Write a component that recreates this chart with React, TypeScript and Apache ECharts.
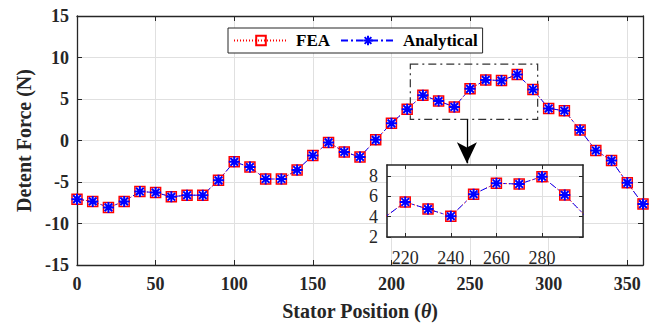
import React, { useEffect, useRef } from "react";
import * as echarts from "echarts";

// ---- data ----
const theta = [0, 10, 20, 30, 40, 50, 60, 70, 80, 90, 100, 110, 120, 130, 140, 150, 160, 170, 180, 190, 200, 210, 220, 230, 240, 250, 260, 270, 280, 290, 300, 310, 320, 330, 340, 350, 360];
const feaValues = [-7.07, -7.34, -8.06, -7.34, -6.15, -6.27, -6.78, -6.59, -6.59, -4.8, -2.57, -3.2, -4.64, -4.64, -3.55, -1.8, -0.23, -1.38, -1.98, 0.08, 2.07, 3.78, 5.45, 4.75, 4.05, 6.22, 7.3, 7.22, 7.95, 6.15, 3.86, 3.59, 1.27, -1.2, -2.42, -5.1, -7.66];
const analyticalValues = [-7.07, -7.34, -8.06, -7.34, -6.15, -6.27, -6.78, -6.59, -6.59, -4.8, -2.57, -3.2, -4.64, -4.64, -3.55, -1.8, -0.23, -1.38, -1.98, 0.08, 2.07, 3.78, 5.45, 4.75, 4.05, 6.22, 7.3, 7.22, 7.95, 6.15, 3.86, 3.59, 1.27, -1.2, -2.42, -5.1, -7.66];
const mainXTicks = [0, 50, 100, 150, 200, 250, 300, 350];
const insetXTicks = [220, 240, 260, 280];
const insetYTicks = [2, 4, 6, 8];

// zoom box / inset ranges
const insetXRange = [212, 298];
const insetYRange = [2, 9.1];
const zoomBox = { x0: 212, x1: 293, y0: 2.55, y1: 9.2 };
const arrow = { x: 248, y0: 2.55, y1: -2.75 };

const FONT = "Liberation Serif";
const AX = "#262626";
const GRID = "#e0e0e0";
const ASTERISK = "path://M5,0L5,10M0,5L10,5M1.5,1.5L8.5,8.5M1.5,8.5L8.5,1.5";

export default function App() {
  const ref = useRef<HTMLDivElement>(null);
  useEffect(() => {
    if (!ref.current) return;
    const chart = echarts.init(ref.current, null, { renderer: "svg" });
    const fea = theta.map((t, i) => [t, feaValues[i]]);
    const ana = theta.map((t, i) => [t, analyticalValues[i]]);

    const feaStyle = {
      type: "line" as const,
      symbol: "rect",
      symbolSize: 10,
      lineStyle: { color: "#ff0000", width: 1, type: [1, 2] },
      itemStyle: { color: "rgba(255,255,255,0)", borderColor: "#ff0000", borderWidth: 1.5 },
    };
    const anaStyle = {
      type: "line" as const,
      symbol: ASTERISK,
      symbolSize: 11,
      lineStyle: { color: "#0000ff", width: 1, type: [7, 3, 2, 3] },
      itemStyle: { color: "#0000ff", borderColor: "#0000ff", borderWidth: 2 },
    };

    const boxAxis = (extra: any) => ({
      axisLine: { show: true, onZero: false, lineStyle: { color: AX, width: 1.3 } },
      axisTick: { show: true, inside: true, length: 5, lineStyle: { color: AX, width: 1 } },
      ...extra,
    });

    chart.setOption({
      animation: false,
      backgroundColor: "#fff",
      textStyle: { fontFamily: FONT },
      legend: {
        left: 228,
        top: 28,
        padding: [4, 5, 4, 5],
        borderColor: AX,
        borderWidth: 1,
        backgroundColor: "#fff",
        itemWidth: 54,
        itemHeight: 12,
        itemGap: 10,
        data: ["FEA", "Analytical"],
        textStyle: { fontFamily: FONT, fontWeight: "bold", fontSize: 17, color: "#000", padding: [0, 0, 0, 3] },
      },
      grid: [
        { left: 77, top: 16, width: 566, height: 252 },
        { left: 387, top: 165, width: 196, height: 72, show: true, backgroundColor: "#fff", borderWidth: 0, z: 3 },
      ],
      xAxis: [
        boxAxis({
          type: "value",
          gridIndex: 0,
          min: 0,
          max: 360,
          interval: 50,
          name: "Stator Position ({i|θ})",
          nameLocation: "middle",
          nameGap: 36,
          nameTextStyle: {
            fontFamily: FONT, fontWeight: "bold", fontSize: 20, color: AX,
            rich: { i: { fontFamily: FONT, fontWeight: "bold", fontStyle: "italic", fontSize: 20, color: AX } },
          },
          axisLabel: { customValues: mainXTicks, fontFamily: FONT, fontWeight: "bold", fontSize: 18, color: AX, margin: 10 },
          splitLine: { show: true, lineStyle: { color: GRID, width: 1 } },
        }),
        boxAxis({
          type: "value", gridIndex: 0, position: "top", min: 0, max: 360, interval: 50,
          axisLabel: { show: false }, splitLine: { show: false },
        }),
        boxAxis({
          type: "value", gridIndex: 1, min: insetXRange[0], max: insetXRange[1], z: 4,
          axisLine: { show: true, onZero: false, lineStyle: { color: AX, width: 1.6 } },
          axisTick: { show: true, inside: true, length: 4, customValues: insetXTicks, lineStyle: { color: AX } },
          axisLabel: { customValues: insetXTicks, fontFamily: FONT, fontSize: 18, color: AX, margin: 12 },
          splitLine: { show: true, customValues: insetXTicks, lineStyle: { color: GRID } },
        }),
        boxAxis({
          type: "value", gridIndex: 1, position: "top", min: insetXRange[0], max: insetXRange[1], z: 4,
          axisLine: { show: true, onZero: false, lineStyle: { color: AX, width: 1.6 } },
          axisTick: { show: true, inside: true, length: 4, customValues: insetXTicks, lineStyle: { color: AX } },
          axisLabel: { show: false }, splitLine: { show: false },
        }),
      ],
      yAxis: [
        boxAxis({
          type: "value",
          gridIndex: 0,
          min: -15,
          max: 15,
          interval: 5,
          name: "Detent Force (N)",
          nameLocation: "middle",
          nameGap: 36,
          nameTextStyle: { fontFamily: FONT, fontWeight: "bold", fontSize: 20, color: AX },
          axisLabel: { fontFamily: FONT, fontWeight: "bold", fontSize: 18, color: AX, margin: 8 },
          splitLine: { show: true, lineStyle: { color: GRID, width: 1 } },
        }),
        boxAxis({
          type: "value", gridIndex: 0, position: "right", min: -15, max: 15, interval: 5,
          axisLabel: { show: false }, splitLine: { show: false },
        }),
        boxAxis({
          type: "value", gridIndex: 1, min: insetYRange[0], max: insetYRange[1], z: 4,
          axisLine: { show: true, onZero: false, lineStyle: { color: AX, width: 1.6 } },
          axisTick: { show: true, inside: true, length: 4, customValues: insetYTicks, lineStyle: { color: AX } },
          axisLabel: { customValues: insetYTicks, fontFamily: FONT, fontSize: 18, color: AX, margin: 9 },
          splitLine: { show: true, customValues: insetYTicks, lineStyle: { color: GRID } },
        }),
        boxAxis({
          type: "value", gridIndex: 1, position: "right", min: insetYRange[0], max: insetYRange[1], z: 4,
          axisLine: { show: true, onZero: false, lineStyle: { color: AX, width: 1.6 } },
          axisTick: { show: true, inside: true, length: 4, customValues: insetYTicks, lineStyle: { color: AX } },
          axisLabel: { show: false }, splitLine: { show: false },
        }),
      ],
      series: [
        {
          ...feaStyle,
          name: "FEA",
          xAxisIndex: 0,
          yAxisIndex: 0,
          data: fea,
          markArea: {
            silent: true,
            itemStyle: { color: "rgba(0,0,0,0)", borderColor: "#333", borderWidth: 1.2, borderType: [8, 4, 2, 4] },
            data: [[{ coord: [zoomBox.x0, zoomBox.y1] }, { coord: [zoomBox.x1, zoomBox.y0] }]],
          },
          markLine: {
            silent: true,
            symbol: ["none", "arrow"],
            symbolSize: [15, 21],
            label: { show: false },
            lineStyle: { color: "#000", width: 1.3, type: "solid" },
            data: [[{ coord: [arrow.x, arrow.y0] }, { coord: [arrow.x, arrow.y1] }]],
          },
        },
        { ...anaStyle, name: "Analytical", xAxisIndex: 0, yAxisIndex: 0, data: ana },
        { ...feaStyle, name: "FEA", xAxisIndex: 2, yAxisIndex: 2, data: fea, z: 5, clip: true },
        { ...anaStyle, name: "Analytical", xAxisIndex: 2, yAxisIndex: 2, data: ana, z: 5, clip: true },
      ],
    });
    return () => chart.dispose();
  }, []);
  return <div ref={ref} style={{ position: "fixed", left: 0, top: 0, width: 655, height: 326 }} />;
}
